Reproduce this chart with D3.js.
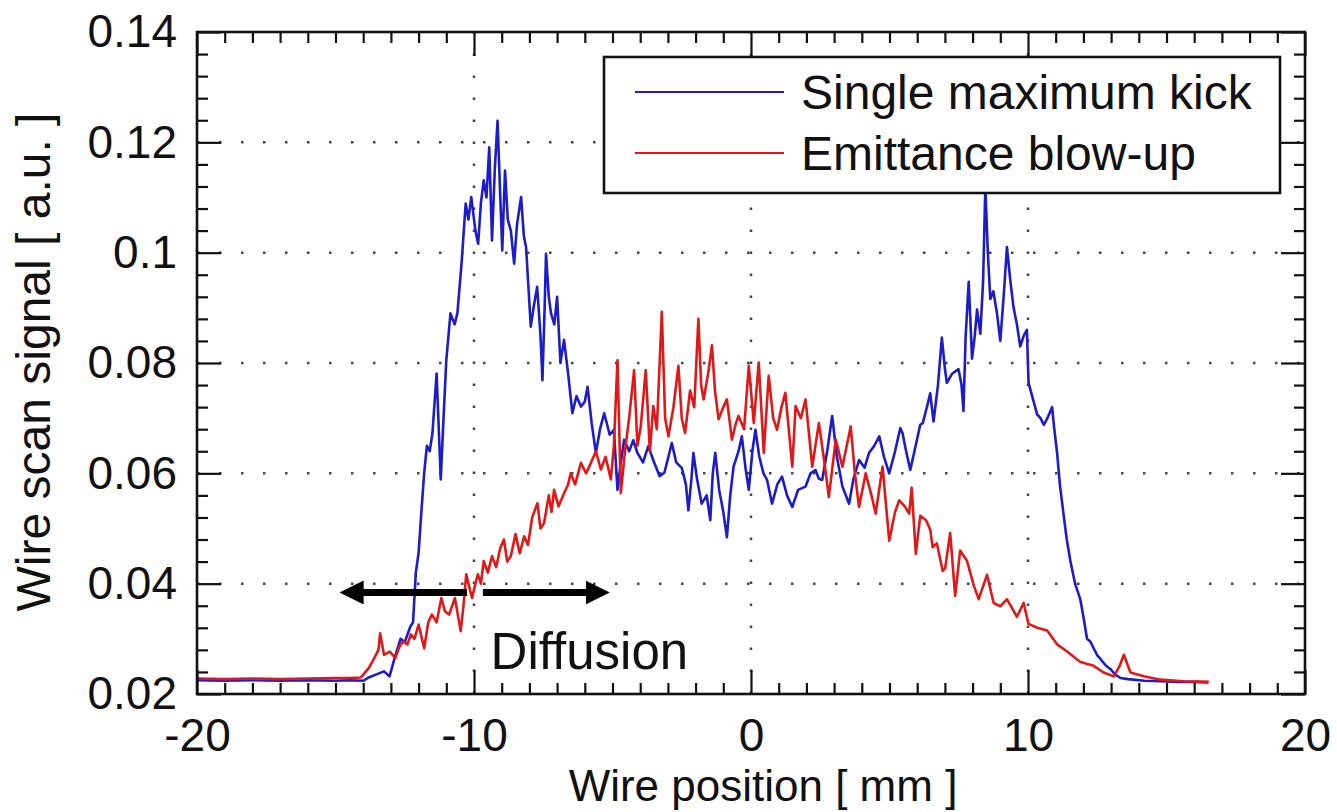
<!DOCTYPE html>
<html>
<head>
<meta charset="utf-8">
<script src="https://cdn.jsdelivr.net/npm/d3@7"></script>
<style>
  body { margin: 0; background: #fff; }
  text { font-family: "Liberation Sans", Arial, Helvetica, sans-serif; fill: #111; }
</style>
</head>
<body>
<script>
// wire position [mm], signal [a.u.]
let singleKick = [
  [-20.0, 0.0225], [-19.0, 0.0224], [-18.0, 0.0225], [-17.0, 0.0224], [-16.0, 0.0225], [-15.0, 0.0224],
  [-14.5, 0.0225], [-14.0, 0.0224], [-13.8, 0.0230], [-13.5, 0.0236], [-13.25, 0.0241], [-13.05, 0.0232],
  [-12.85, 0.0268], [-12.65, 0.0300], [-12.5, 0.0294], [-12.3, 0.0322], [-12.2, 0.0330], [-12.1, 0.0420],
  [-12.0, 0.0456], [-11.9, 0.0530], [-11.8, 0.0600], [-11.7, 0.0650], [-11.6, 0.0640], [-11.5, 0.0673],
  [-11.35, 0.0781], [-11.2, 0.0589], [-11.1, 0.0700], [-11.0, 0.0805], [-10.85, 0.0890], [-10.7, 0.0870],
  [-10.6, 0.0890], [-10.45, 0.0980], [-10.3, 0.1089], [-10.2, 0.1060], [-10.1, 0.1101], [-9.95, 0.1040],
  [-9.85, 0.1016], [-9.75, 0.1090], [-9.65, 0.1131], [-9.55, 0.1100], [-9.45, 0.1191], [-9.35, 0.1022],
  [-9.25, 0.1150], [-9.15, 0.1239], [-9.05, 0.1100], [-8.98, 0.1004], [-8.88, 0.1149], [-8.78, 0.1060],
  [-8.67, 0.1040], [-8.55, 0.0980], [-8.45, 0.1050], [-8.3, 0.1101], [-8.2, 0.1030], [-8.12, 0.1010],
  [-8.05, 0.0950], [-7.95, 0.0866], [-7.85, 0.0900], [-7.72, 0.0938], [-7.6, 0.0850], [-7.53, 0.0769],
  [-7.45, 0.0900], [-7.4, 0.0998], [-7.3, 0.0920], [-7.22, 0.0890], [-7.1, 0.0870], [-7.0, 0.0920],
  [-6.88, 0.0800], [-6.75, 0.0842], [-6.6, 0.0780], [-6.45, 0.0709], [-6.3, 0.0740], [-6.14, 0.0721],
  [-6.0, 0.0730], [-5.9, 0.0757], [-5.75, 0.0690], [-5.6, 0.0637], [-5.45, 0.0680], [-5.3, 0.0709],
  [-5.1, 0.0670], [-4.95, 0.0679], [-4.82, 0.0570], [-4.7, 0.0620], [-4.58, 0.0661], [-4.4, 0.0640],
  [-4.25, 0.0660], [-4.1, 0.0637], [-3.9, 0.0620], [-3.71, 0.0649], [-3.5, 0.0620], [-3.3, 0.0595],
  [-3.13, 0.0601], [-2.98, 0.0630], [-2.86, 0.0655], [-2.7, 0.0620], [-2.5, 0.0610], [-2.35, 0.0580],
  [-2.26, 0.0533], [-2.15, 0.0590], [-2.08, 0.0637], [-1.95, 0.0590], [-1.78, 0.0545], [-1.6, 0.0560],
  [-1.47, 0.0515], [-1.38, 0.0600], [-1.29, 0.0637], [-1.15, 0.0570], [-1.0, 0.0530], [-0.87, 0.0484],
  [-0.75, 0.0560], [-0.63, 0.0612], [-0.45, 0.0640], [-0.33, 0.0667], [-0.2, 0.0610], [-0.08, 0.0570],
  [0.05, 0.0640], [0.16, 0.0679], [0.3, 0.0630], [0.45, 0.0600], [0.58, 0.0588], [0.76, 0.0545],
  [0.95, 0.0580], [1.12, 0.0594], [1.3, 0.0560], [1.49, 0.0539], [1.7, 0.0570], [1.97, 0.0576],
  [2.15, 0.0600], [2.33, 0.0606], [2.45, 0.0590], [2.57, 0.0588], [2.75, 0.0640], [2.93, 0.0704],
  [3.1, 0.0630], [3.3, 0.0576], [3.54, 0.0545], [3.7, 0.0590], [3.9, 0.0624], [4.1, 0.0610],
  [4.26, 0.0637], [4.45, 0.0650], [4.63, 0.0667], [4.8, 0.0630], [4.99, 0.0600], [5.2, 0.0640],
  [5.39, 0.0682], [5.47, 0.0673], [5.6, 0.0640], [5.75, 0.0606], [5.9, 0.0640], [6.11, 0.0688],
  [6.2, 0.0691], [6.35, 0.0720], [6.47, 0.0745], [6.59, 0.0694], [6.75, 0.0760], [6.89, 0.0846],
  [7.0, 0.0790], [7.07, 0.0764], [7.25, 0.0780], [7.49, 0.0789], [7.6, 0.0760], [7.67, 0.0713],
  [7.75, 0.0850], [7.86, 0.0947], [7.98, 0.0808], [8.08, 0.0850], [8.16, 0.0897], [8.28, 0.0853],
  [8.38, 0.0950], [8.46, 0.1120], [8.55, 0.1000], [8.64, 0.0916], [8.75, 0.0930], [8.88, 0.0890],
  [9.0, 0.0840], [9.12, 0.0920], [9.24, 0.1010], [9.36, 0.0950], [9.48, 0.0900], [9.6, 0.0870],
  [9.72, 0.0830], [9.85, 0.0850], [9.96, 0.0860], [10.02, 0.0764], [10.15, 0.0740], [10.33, 0.0707],
  [10.45, 0.0700], [10.57, 0.0688], [10.7, 0.0700], [10.87, 0.0720], [10.95, 0.0680], [11.05, 0.0637],
  [11.15, 0.0580], [11.29, 0.0523], [11.4, 0.0480], [11.53, 0.0441], [11.7, 0.0400], [11.89, 0.0371],
  [12.0, 0.0340], [12.13, 0.0300], [12.25, 0.0295], [12.37, 0.0283], [12.5, 0.0270], [12.61, 0.0264],
  [12.8, 0.0252], [12.98, 0.0245], [13.15, 0.0235], [13.34, 0.0229], [13.6, 0.0227], [13.8, 0.0226],
  [14.2, 0.0224], [14.8, 0.0223], [15.4, 0.0222], [16.0, 0.0222], [16.5, 0.0221]
];

let blowUp = [
  [-20.0, 0.0228], [-19.0, 0.0227], [-18.0, 0.0228], [-17.0, 0.0227], [-16.0, 0.0228], [-15.0, 0.0229],
  [-14.5, 0.0229], [-14.08, 0.0230], [-13.8, 0.0247], [-13.6, 0.0265], [-13.45, 0.0280], [-13.39, 0.0310],
  [-13.25, 0.0271], [-13.04, 0.0277], [-12.84, 0.0265], [-12.7, 0.0285], [-12.56, 0.0295], [-12.4, 0.0290],
  [-12.28, 0.0308], [-12.15, 0.0300], [-12.0, 0.0326], [-11.8, 0.0283], [-11.65, 0.0330], [-11.52, 0.0344],
  [-11.35, 0.0330], [-11.18, 0.0374], [-11.05, 0.0350], [-10.9, 0.0344], [-10.69, 0.0374], [-10.48, 0.0314],
  [-10.38, 0.0360], [-10.28, 0.0417], [-10.15, 0.0390], [-10.07, 0.0374], [-9.95, 0.0400], [-9.86, 0.0417],
  [-9.75, 0.0400], [-9.65, 0.0441], [-9.5, 0.0420], [-9.35, 0.0450], [-9.2, 0.0430], [-9.05, 0.0465],
  [-8.92, 0.0480], [-8.8, 0.0440], [-8.67, 0.0450], [-8.5, 0.0490], [-8.35, 0.0455], [-8.19, 0.0486],
  [-8.05, 0.0470], [-7.9, 0.0520], [-7.71, 0.0546], [-7.6, 0.0500], [-7.47, 0.0510], [-7.3, 0.0560],
  [-7.2, 0.0530], [-7.11, 0.0570], [-6.95, 0.0540], [-6.75, 0.0564], [-6.6, 0.0580], [-6.51, 0.0600],
  [-6.35, 0.0580], [-6.14, 0.0619], [-5.95, 0.0600], [-5.78, 0.0619], [-5.6, 0.0640], [-5.42, 0.0607],
  [-5.25, 0.0630], [-5.06, 0.0589], [-4.95, 0.0650], [-4.82, 0.0805], [-4.7, 0.0564], [-4.55, 0.0640],
  [-4.4, 0.0700], [-4.22, 0.0787], [-4.1, 0.0650], [-3.98, 0.0685], [-3.8, 0.0787], [-3.65, 0.0640],
  [-3.53, 0.0722], [-3.4, 0.0680], [-3.22, 0.0893], [-3.1, 0.0700], [-2.98, 0.0667], [-2.8, 0.0720],
  [-2.62, 0.0795], [-2.5, 0.0700], [-2.38, 0.0673], [-2.2, 0.0750], [-2.05, 0.0720], [-1.9, 0.0880],
  [-1.8, 0.0760], [-1.71, 0.0734], [-1.55, 0.0780], [-1.41, 0.0832], [-1.3, 0.0750], [-1.17, 0.0698],
  [-1.0, 0.0720], [-0.87, 0.0734], [-0.69, 0.0661], [-0.55, 0.0690], [-0.45, 0.0704], [-0.25, 0.0680],
  [-0.08, 0.0795], [0.1, 0.0691], [0.28, 0.0801], [0.46, 0.0637], [0.64, 0.0777], [0.8, 0.0700],
  [0.94, 0.0679], [1.1, 0.0720], [1.24, 0.0746], [1.49, 0.0612], [1.61, 0.0722], [1.8, 0.0700],
  [1.97, 0.0734], [2.21, 0.0612], [2.45, 0.0691], [2.65, 0.0620], [2.81, 0.0557], [3.06, 0.0661],
  [3.3, 0.0612], [3.6, 0.0685], [3.75, 0.0600], [3.9, 0.0539], [4.14, 0.0600], [4.35, 0.0560],
  [4.5, 0.0527], [4.75, 0.0612], [4.99, 0.0478], [5.2, 0.0530], [5.35, 0.0551], [5.55, 0.0540],
  [5.71, 0.0527], [5.8, 0.0574], [5.95, 0.0454], [6.11, 0.0523], [6.32, 0.0515], [6.47, 0.0498],
  [6.56, 0.0466], [6.71, 0.0473], [6.92, 0.0423], [7.01, 0.0428], [7.19, 0.0492], [7.37, 0.0378],
  [7.55, 0.0460], [7.8, 0.0441], [8.04, 0.0397], [8.22, 0.0372], [8.52, 0.0416], [8.76, 0.0365],
  [9.0, 0.0359], [9.24, 0.0372], [9.6, 0.0340], [9.84, 0.0365], [10.02, 0.0327], [10.33, 0.0320],
  [10.69, 0.0315], [11.05, 0.0290], [11.41, 0.0277], [11.89, 0.0258], [12.37, 0.0251], [12.73, 0.0239],
  [13.1, 0.0232], [13.3, 0.0250], [13.46, 0.0271], [13.7, 0.0239], [14.18, 0.0232], [14.78, 0.0226],
  [15.63, 0.0223], [16.53, 0.0222]
];

let seriesNames = ["Single maximum kick", "Emittance blow-up"];
let seriesColors = ["#1c1cc8", "#e01818"];
let xTicks = [-20, -10, 0, 10, 20];
let xTickLabels = ["-20", "-10", "0", "10", "20"];
let yTicks = [0.02, 0.04, 0.06, 0.08, 0.1, 0.12, 0.14];
let yTickLabels = ["0.02", "0.04", "0.06", "0.08", "0.1", "0.12", "0.14"];
let xMinor = d3.range(-19, 20, 1).filter(v => v % 10 !== 0);
let yMinor = d3.range(0, 31).map(i => 0.02 + i * 0.004).filter((v, i) => i % 5 !== 0);
// arrows for the "Diffusion" note: [from, to] in mm, at signal level
let arrowSpans = [[-10.25, -14.85], [-9.68, -5.1]];
let arrowLevel = 0.0384;

let svgWidth = 1337;
let svgHeight = 812;
let margin = { top: 32, right: 32, bottom: 118, left: 197 };
let chartWidth = svgWidth - margin.left - margin.right;
let chartHeight = svgHeight - margin.top - margin.bottom;

let svg = d3.select("body").append("svg")
    .attr("width", svgWidth)
    .attr("height", svgHeight);

let chartGroup = svg.append("g")
    .attr("transform", `translate(${margin.left},${margin.top})`);

let x = d3.scaleLinear().domain([-20, 20]).range([0, chartWidth]);
let y = d3.scaleLinear().domain([0.02, 0.14]).range([chartHeight, 0]);

// dotted grid
chartGroup.append("g").selectAll("line")
    .data(yTicks.slice(1, -1))
    .enter().append("line")
    .attr("x1", 0).attr("x2", chartWidth)
    .attr("y1", d => y(d)).attr("y2", d => y(d))
    .attr("stroke", "#444").attr("stroke-width", 2.5)
    .attr("stroke-dasharray", "2.5,19.5");

chartGroup.append("g").selectAll("line")
    .data(xTicks.slice(1, -1))
    .enter().append("line")
    .attr("y1", chartHeight).attr("y2", 0)
    .attr("x1", d => x(d)).attr("x2", d => x(d))
    .attr("stroke", "#444").attr("stroke-width", 2.5)
    .attr("stroke-dasharray", "2.5,19.5");

// curves
let line = d3.line().x(d => x(d[0])).y(d => y(d[1]));
[singleKick, blowUp].forEach(function (data, i) {
    chartGroup.append("path")
        .datum(data)
        .attr("d", line)
        .attr("fill", "none")
        .attr("stroke", seriesColors[i])
        .attr("stroke-width", 2.6)
        .attr("stroke-linejoin", "round");
});

// axes with inward ticks on all four sides
function styleAxis(g, fontSize) {
    g.select(".domain").remove();
    g.selectAll(".tick line").attr("stroke", "#111").attr("stroke-width", 2.2);
    g.selectAll(".tick text").attr("font-size", fontSize).attr("fill", "#111");
}

chartGroup.append("g")
    .attr("transform", `translate(0,${chartHeight})`)
    .call(d3.axisBottom(x).tickValues(xTicks).tickFormat((d, i) => xTickLabels[i])
        .tickSizeInner(-24).tickSizeOuter(0).tickPadding(24))
    .call(g => styleAxis(g, "46px"));
chartGroup.append("g")
    .attr("transform", `translate(0,${chartHeight})`)
    .call(d3.axisBottom(x).tickValues(xMinor).tickFormat("").tickSizeInner(-11).tickSizeOuter(0))
    .call(g => styleAxis(g, "0px"));
chartGroup.append("g")
    .call(d3.axisTop(x).tickValues(xTicks).tickFormat("").tickSizeInner(-24).tickSizeOuter(0))
    .call(g => styleAxis(g, "0px"));
chartGroup.append("g")
    .call(d3.axisTop(x).tickValues(xMinor).tickFormat("").tickSizeInner(-11).tickSizeOuter(0))
    .call(g => styleAxis(g, "0px"));

chartGroup.append("g")
    .call(d3.axisLeft(y).tickValues(yTicks).tickFormat((d, i) => yTickLabels[i])
        .tickSizeInner(-24).tickSizeOuter(0).tickPadding(20))
    .call(g => styleAxis(g, "46px"));
chartGroup.append("g")
    .call(d3.axisLeft(y).tickValues(yMinor).tickFormat("").tickSizeInner(-11).tickSizeOuter(0))
    .call(g => styleAxis(g, "0px"));
chartGroup.append("g")
    .attr("transform", `translate(${chartWidth},0)`)
    .call(d3.axisRight(y).tickValues(yTicks).tickFormat("").tickSizeInner(-24).tickSizeOuter(0))
    .call(g => styleAxis(g, "0px"));
chartGroup.append("g")
    .attr("transform", `translate(${chartWidth},0)`)
    .call(d3.axisRight(y).tickValues(yMinor).tickFormat("").tickSizeInner(-11).tickSizeOuter(0))
    .call(g => styleAxis(g, "0px"));

// frame
chartGroup.append("rect")
    .attr("width", chartWidth)
    .attr("height", chartHeight)
    .attr("fill", "none")
    .attr("stroke", "#111")
    .attr("stroke-width", 2.6);

// legend
let legend = svg.append("g").attr("transform", "translate(604,57)");
legend.append("rect")
    .attr("width", 676).attr("height", 136)
    .attr("fill", "#fff").attr("stroke", "#111").attr("stroke-width", 2.6);
seriesNames.forEach(function (name, i) {
    let ly = 35 + i * 61;
    legend.append("line")
        .attr("x1", 31).attr("x2", 180)
        .attr("y1", ly).attr("y2", ly)
        .attr("stroke", seriesColors[i]).attr("stroke-width", 2);
    legend.append("text")
        .attr("x", 197).attr("y", ly)
        .attr("dy", "0.35em")
        .attr("font-size", "48px")
        .text(name);
});

// diffusion arrows
svg.append("defs").append("marker")
    .attr("id", "head")
    .attr("markerUnits", "userSpaceOnUse")
    .attr("markerWidth", 24).attr("markerHeight", 24)
    .attr("refX", 8).attr("refY", 12)
    .attr("orient", "auto")
    .append("path")
    .attr("d", "M0,0 L24,12 L0,24 Z")
    .attr("fill", "#000");

arrowSpans.forEach(function (s) {
    let dir = Math.sign(x(s[1]) - x(s[0]));
    chartGroup.append("line")
        .attr("x1", x(s[0])).attr("x2", x(s[1]) - 16 * dir)
        .attr("y1", y(arrowLevel)).attr("y2", y(arrowLevel))
        .attr("stroke", "#000").attr("stroke-width", 7)
        .attr("marker-end", "url(#head)");
});

chartGroup.append("text")
    .attr("x", x(-9.4))
    .attr("y", y(0.0246))
    .attr("font-size", "51px")
    .attr("fill", "#000")
    .text("Diffusion");

// axis titles
svg.append("text")
    .attr("x", 763)
    .attr("y", 801)
    .attr("text-anchor", "middle")
    .attr("font-size", "44px")
    .text("Wire position [ mm ]");

svg.append("text")
    .attr("transform", "translate(50,362) rotate(-90)")
    .attr("text-anchor", "middle")
    .attr("font-size", "48px")
    .text("Wire scan signal [ a.u. ]");
</script>
</body>
</html>
